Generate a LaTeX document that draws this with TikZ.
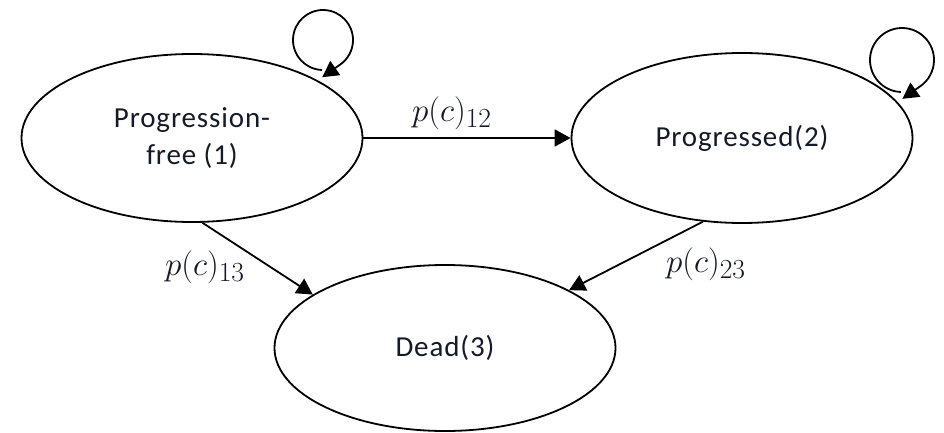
\documentclass[tikz,border=0pt]{standalone}
\usepackage{graphicx}
\usepackage[no-math]{fontspec}
\setmainfont{Carlito}[LetterSpace=3]
\usetikzlibrary{shapes.geometric,arrows.meta}
\definecolor{txt}{HTML}{141A26}
\newcommand{\biglab}[1]{\scalebox{1.33}{$#1$}}
\begin{document}
\begin{tikzpicture}[x=1pt,y=1pt,
  state/.style={ellipse,draw=black,line width=1.8pt,inner sep=0pt,text=txt,
    font=\fontsize{29}{37}\selectfont,align=center},
  arr/.style={line width=1.8pt,-{Triangle[length=16pt,width=17pt]}},
  lab/.style={text=txt,font=\fontsize{24.88}{30}\selectfont,inner sep=0pt}]
\useasboundingbox (0,0) rectangle (944,-433);
\node[state,minimum width=341pt,minimum height=168pt] (e1) at (192,-138) {Progression-\\free (1)};
\node[state,minimum width=341pt,minimum height=170pt] (e2) at (742,-138) {Progressed(2)};
\node[state,minimum width=341pt,minimum height=166pt] (e3) at (445,-348) {Dead(3)};
\node[lab] (l12) at (452,-113) {\biglab{p(c)_{12}}};
\node[lab] (l13) at (205,-267) {\biglab{p(c)_{13}}};
\node[lab] (l23) at (706,-264) {\biglab{p(c)_{23}}};
\draw[arr] (e1.east) -- (e2.west);
\draw[arr] (e1.-83) -- (e3.158);
\draw[arr] (e2.245) -- (e3.25);
\coordinate (c1) at (323,-40);
\coordinate (c2) at (902,-60);
\draw[arr] (c1) ++(268:30) arc[start angle=268,end angle=-55,radius=30] -- ++(-145:22);
\draw[arr] (c2) ++(268:32) arc[start angle=268,end angle=-55,radius=32] -- ++(-145:22);
\end{tikzpicture}
\end{document}
